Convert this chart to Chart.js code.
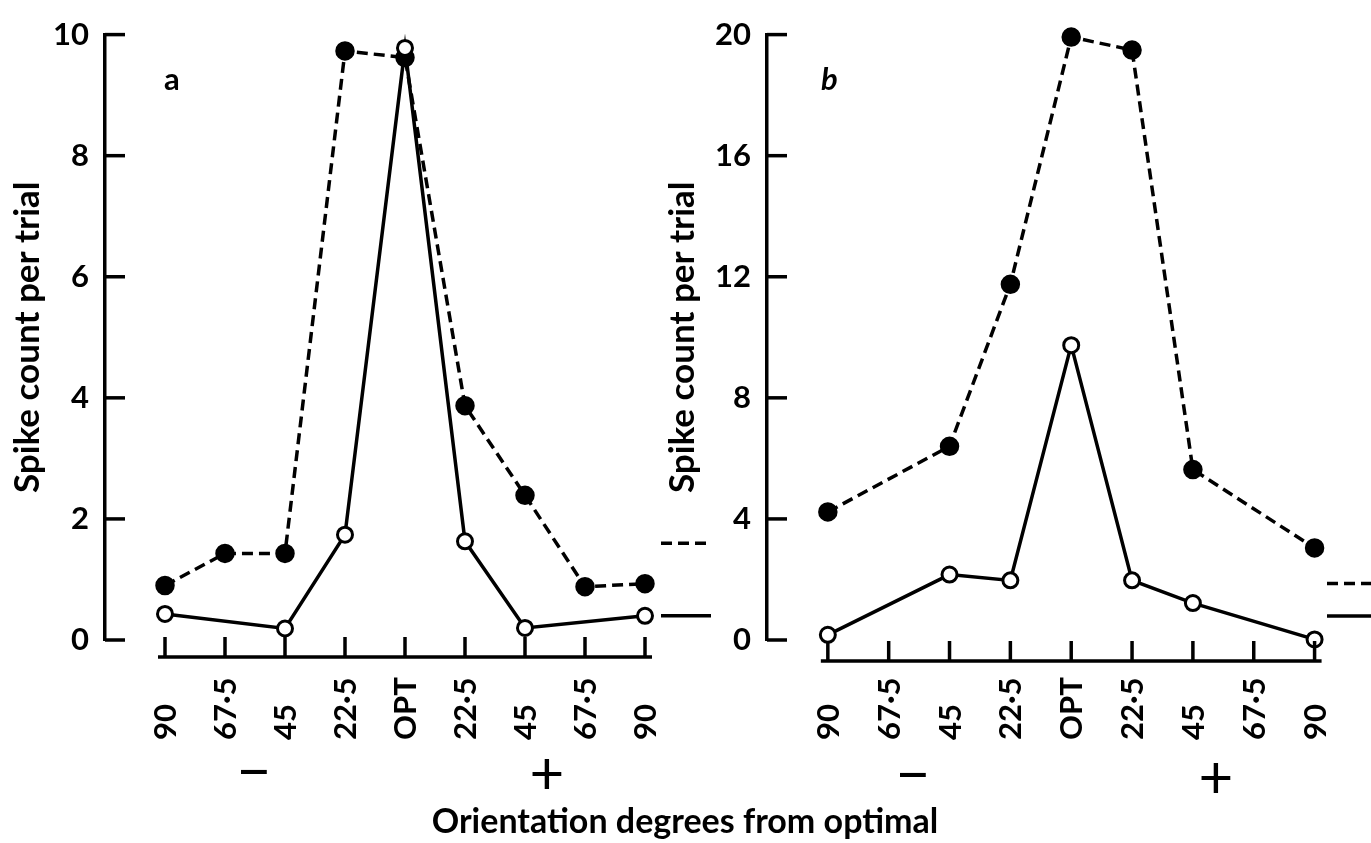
<!DOCTYPE html>
<html>
<head>
<meta charset="utf-8">
<script src="https://cdn.jsdelivr.net/npm/chart.js@4.4.1/dist/chart.umd.min.js"></script>
<style>
  html, body { margin: 0; padding: 0; background: #fff; width: 1371px; height: 843px; overflow: hidden; }
  body { font-family: Lato, 'Open Sans', sans-serif; color: #000; }
  .box { position: absolute; top: 0; height: 843px; }
  #boxA { left: 0; width: 720px; }
  #boxB { left: 650px; width: 721px; }
  .lbl { position: absolute; line-height: 1; white-space: nowrap; }
  .sign { position: absolute; line-height: 1; font-size: 60px; font-weight: normal; transform: translate(-50%, -50%); }
</style>
</head>
<body>
<div class="box" id="boxA"><canvas id="chartA"></canvas></div>
<div class="box" id="boxB"><canvas id="chartB"></canvas></div>

<div class="lbl" style="left:164px; top:63px; font-size:31px; font-weight:bold;">a</div>
<div class="lbl" style="left:821px; top:63px; font-size:31px; font-weight:bold; font-style:italic;">b</div>
<div class="sign" style="left:254px; top:769px;">−</div>
<div class="sign" style="left:547px; top:771px;">+</div>
<div class="sign" style="left:913px; top:772px;">−</div>
<div class="sign" style="left:1216px; top:775px;">+</div>
<div class="lbl" style="left:685px; top:833px; transform:translate(-50%, -89%); font-size:34px; font-weight:bold;">Orientation degrees from optimal</div>

<script>
// orientation steps, -4 = 90 deg on the minus side ... 0 = optimal ... 4 = 90 deg on the plus side
const positions = [-4, -3, -2, -1, 0, 1, 2, 3, 4];
const tickLabels = ['90', '67·5', '45', '22·5', 'OPT', '22·5', '45', '67·5', '90'];

// panel a
const aFilled = [0.9, 1.43, 1.43, 9.73, 9.62, 3.87, 2.39, 0.88, 0.93];
const aOpen = [0.43, null, 0.19, 1.74, 9.78, 1.63, 0.2, null, 0.4];
const aSpont = [1.6, 0.4];   // dashed, solid

// panel b
const bFilled = [4.23, null, 6.4, 11.75, 19.92, 19.49, 5.63, null, 3.04];
const bOpen = [0.17, null, 2.16, 1.97, 9.74, 1.97, 1.22, null, 0.02];
const bSpont = [1.87, 0.79];

const yTitle = 'Spike count per trial';

const toPoints = vals => positions.map((p, i) => ({ x: p, y: vals[i] }));

// draws the inward y ticks, the detached x axis, rotated tick labels and the spontaneous-level marks
const paperAxes = {
    id: 'paperAxes',
    afterDraw(chart, args, o) {
        const { ctx } = chart;
        const xs = chart.scales.x, ys = chart.scales.y;
        const line = (x1, y1, x2, y2) => { ctx.beginPath(); ctx.moveTo(x1, y1); ctx.lineTo(x2, y2); ctx.stroke(); };
        ctx.save();
        ctx.strokeStyle = '#000';
        ctx.fillStyle = '#000';
        ctx.lineWidth = 3.5;

        ys.ticks.forEach(t => {
            const py = ys.getPixelForValue(t.value);
            line(ys.right, py, ys.right + 20, py);
        });

        const axisY = ys.getPixelForValue(0) + o.axisGap;
        const first = xs.getPixelForValue(positions[0]);
        const last = xs.getPixelForValue(positions[positions.length - 1]);
        line(first - 7, axisY, last + 7, axisY);
        positions.forEach(p => {
            const px = xs.getPixelForValue(p);
            line(px, axisY, px, axisY - 20);
        });

        ctx.font = 'bold 31px Lato';
        ctx.textAlign = 'left';
        ctx.textBaseline = 'alphabetic';
        positions.forEach((p, i) => {
            ctx.save();
            ctx.translate(xs.getPixelForValue(p) + 11, 740);
            ctx.rotate(-Math.PI / 2);
            ctx.fillText(tickLabels[i], 0, 0);
            ctx.restore();
        });

        ctx.setLineDash([11, 6]);
        line(o.markFrom, ys.getPixelForValue(o.spont[0]), o.markTo, ys.getPixelForValue(o.spont[0]));
        ctx.setLineDash([]);
        line(o.markFrom, ys.getPixelForValue(o.spont[1]), o.markTo, ys.getPixelForValue(o.spont[1]));
        ctx.restore();
    }
};

function makePanel(canvas, filled, open, cfg) {
    return new Chart(canvas, {
        type: 'line',
        data: {
            datasets: [
                {
                    data: toPoints(open),
                    borderColor: '#000',
                    borderWidth: 3.5,
                    pointRadius: 7.5,
                    pointBorderWidth: 3,
                    pointBackgroundColor: '#fff',
                    pointBorderColor: '#000',
                    spanGaps: true,
                    tension: 0,
                    clip: false
                },
                {
                    data: toPoints(filled),
                    borderColor: '#000',
                    borderWidth: 3.5,
                    borderDash: [11, 6],
                    pointRadius: 8,
                    pointBackgroundColor: '#000',
                    pointBorderColor: '#000',
                    spanGaps: true,
                    tension: 0,
                    clip: false
                }
            ]
        },
        options: {
            responsive: true,
            maintainAspectRatio: false,
            animation: false,
            events: [],
            layout: { padding: { top: cfg.top, right: cfg.right, bottom: 0, left: 0 } },
            scales: {
                x: {
                    type: 'linear',
                    min: -5,
                    max: cfg.xMax,
                    afterFit: s => { s.height = 843 - 640; },
                    ticks: { display: false },
                    grid: { display: false },
                    border: { display: false }
                },
                y: {
                    min: 0,
                    max: cfg.yMax,
                    afterFit: s => { s.width = cfg.left; },
                    ticks: { stepSize: cfg.step, padding: 16, color: '#000', font: { family: 'Lato', size: 31, weight: 'bold' } },
                    grid: { display: false, drawTicks: false },
                    border: { display: true, color: '#000', width: 3.5 },
                    title: {
                        display: true,
                        text: yTitle,
                        color: '#000',
                        font: { family: 'Lato', size: 35, weight: 'bold' },
                        padding: { top: cfg.titlePad, bottom: 0 }
                    }
                }
            },
            plugins: {
                legend: { display: false },
                tooltip: { enabled: false },
                paperAxes: { axisGap: cfg.axisGap, spont: cfg.spont, markFrom: cfg.markFrom, markTo: cfg.markTo }
            }
        },
        plugins: [paperAxes]
    });
}

makePanel(document.getElementById('chartA'), aFilled, aOpen, {
    top: 25, right: 65, left: 105, xMax: 4.1667, yMax: 10, step: 2,
    titlePad: 7, axisGap: 17, spont: aSpont, markFrom: 661, markTo: 711
});
makePanel(document.getElementById('chartB'), bFilled, bOpen, {
    top: 29, right: 26, left: 117, xMax: 4.5, yMax: 20, step: 4,
    titlePad: 12, axisGap: 21, spont: bSpont, markFrom: 677, markTo: 721
});
</script>
</body>
</html>
